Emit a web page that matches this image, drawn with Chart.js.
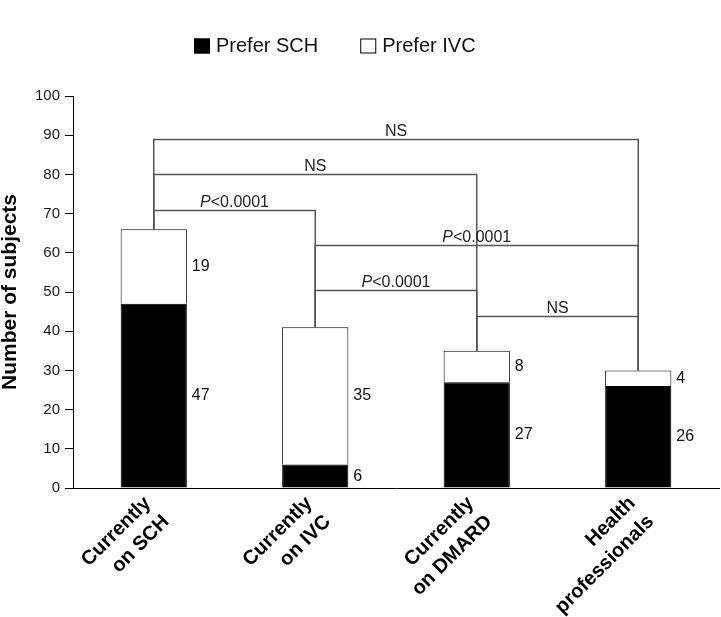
<!DOCTYPE html>
<html>
<head>
<meta charset="utf-8">
<script src="https://cdn.jsdelivr.net/npm/chart.js@4.4.1/dist/chart.umd.min.js"></script>
<style>
  html, body { margin: 0; padding: 0; background: #fff; }
</style>
</head>
<body>
<canvas id="chart" width="721" height="617"></canvas>
<script>
// categories and series
var CATEGORIES = [
  ["Currently", "on SCH"],
  ["Currently", "on IVC"],
  ["Currently", "on DMARD"],
  ["Health", "professionals"],
];
var SERIES_NAMES = ["Prefer SCH", "Prefer IVC"];
var PREFER_SCH = [47, 6, 27, 26];
var PREFER_IVC = [19, 35, 8, 4];
var Y_MIN = 0;
var Y_MAX = 100;
var Y_STEP = 10;

// significance brackets (category index pairs, bracket height, text)
var BRACKET_FROM = [0, 0, 0, 1, 1, 2];
var BRACKET_TO = [3, 2, 1, 3, 2, 3];
var BRACKET_LEVEL = [89, 80, 71, 62, 50.6, 44];
var BRACKET_TEXT = ["NS", "NS", "P<0.0001", "P<0.0001", "P<0.0001", "NS"];

var FONT = '"Liberation Sans", Arial, Helvetica, sans-serif';

/** 数值标签 + 显著性括号 */
var annotatePlugin = {
  id: "annotate",
  afterDatasetsDraw: function (chart) {
    var ctx = chart.ctx;
    var xs = chart.scales.x;
    var ys = chart.scales.y;
    ctx.save();

    // segment value labels to the right of each bar
    ctx.font = "16px " + FONT;
    ctx.fillStyle = "#111";
    ctx.textAlign = "left";
    ctx.textBaseline = "middle";
    chart.data.datasets.forEach(function (ds, di) {
      var meta = chart.getDatasetMeta(di);
      meta.data.forEach(function (bar, i) {
        var v = ds.data[i];
        var base = di === 0 ? 0 : PREFER_SCH[i];
        ctx.fillText(String(v), bar.x + bar.width / 2 + 5, ys.getPixelForValue(base + v / 2));
      });
    });

    // brackets
    ctx.strokeStyle = "#555";
    ctx.lineWidth = 1.5;
    for (var k = 0; k < BRACKET_FROM.length; k++) {
      var a = BRACKET_FROM[k];
      var b = BRACKET_TO[k];
      var x1 = xs.getPixelForValue(a);
      var x2 = xs.getPixelForValue(b);
      var yl = Math.round(ys.getPixelForValue(BRACKET_LEVEL[k])) + 0.5;
      var ya = ys.getPixelForValue(PREFER_SCH[a] + PREFER_IVC[a]);
      var yb = ys.getPixelForValue(PREFER_SCH[b] + PREFER_IVC[b]);
      ctx.beginPath();
      ctx.moveTo(x1, ya);
      ctx.lineTo(x1, yl);
      ctx.lineTo(x2, yl);
      ctx.lineTo(x2, yb);
      ctx.stroke();

      var txt = BRACKET_TEXT[k];
      var cx = (x1 + x2) / 2;
      var ty = yl - 4;
      ctx.fillStyle = "#222";
      ctx.textBaseline = "alphabetic";
      if (txt.charAt(0) === "P") {
        var rest = txt.slice(1);
        ctx.font = "italic 16px " + FONT;
        var wp = ctx.measureText("P").width;
        ctx.font = "16px " + FONT;
        var wr = ctx.measureText(rest).width;
        var sx = cx - (wp + wr) / 2;
        ctx.textAlign = "left";
        ctx.font = "italic 16px " + FONT;
        ctx.fillText("P", sx, ty);
        ctx.font = "16px " + FONT;
        ctx.fillText(rest, sx + wp, ty);
      } else {
        ctx.font = "16px " + FONT;
        ctx.textAlign = "center";
        ctx.fillText(txt, cx, ty);
      }
    }
    ctx.restore();
  },
  afterDraw: function (chart) {
    // legend row at the top
    var ctx = chart.ctx;
    ctx.save();
    ctx.font = "20px " + FONT;
    ctx.textBaseline = "middle";
    ctx.textAlign = "left";
    var x = 194;
    var cy = 46;
    chart.data.datasets.forEach(function (ds, di) {
      ctx.fillStyle = ds.backgroundColor;
      ctx.fillRect(x, cy - 7.5, 16, 15);
      ctx.strokeStyle = "#000";
      ctx.lineWidth = 1;
      ctx.strokeRect(x + 0.5, cy - 7, 15, 14);
      ctx.fillStyle = "#111";
      ctx.fillText(ds.label, x + 22, cy);
      x += 22 + ctx.measureText(ds.label).width + 42;
    });
    ctx.restore();
  },
};

new Chart(document.getElementById("chart"), {
  type: "bar",
  data: {
    labels: CATEGORIES,
    datasets: [
      {
        label: SERIES_NAMES[0],
        data: PREFER_SCH,
        backgroundColor: "#000",
        borderColor: "#000",
        borderWidth: 1,
      },
      {
        label: SERIES_NAMES[1],
        data: PREFER_IVC,
        backgroundColor: "#fff",
        borderColor: "#000",
        borderWidth: 1,
      },
    ],
  },
  options: {
    responsive: false,
    animation: false,
    barPercentage: 0.41,
    categoryPercentage: 1,
    layout: { padding: { top: 96, right: 2, left: 0, bottom: 0 } },
    plugins: {
      legend: { display: false },
      tooltip: { enabled: false },
    },
    scales: {
      x: {
        stacked: true,
        grid: { display: false, drawTicks: false },
        border: { display: true, color: "#000", width: 1 },
        ticks: {
          autoSkip: false,
          minRotation: 45,
          maxRotation: 45,
          padding: 3,
          labelOffset: -6,
          color: "#000",
          font: { family: FONT, size: 20, weight: "bold", lineHeight: 1.3 },
        },
        afterFit: function (s) {
          s.height = 129;
        },
      },
      y: {
        stacked: true,
        min: Y_MIN,
        max: Y_MAX,
        ticks: {
          stepSize: Y_STEP,
          padding: 5,
          color: "#1a1a1a",
          font: { family: FONT, size: 15 },
        },
        grid: { display: true, drawOnChartArea: false, drawTicks: true, tickLength: 8, color: "#000" },
        border: { display: true, color: "#000", width: 1 },
        title: {
          display: true,
          text: "Number of subjects",
          color: "#000",
          padding: { top: 0, bottom: 0 },
          font: { family: FONT, size: 21, weight: "bold", lineHeight: 1.0 },
        },
        afterFit: function (s) {
          s.width = 73;
        },
      },
    },
  },
  plugins: [annotatePlugin],
});
</script>
</body>
</html>
